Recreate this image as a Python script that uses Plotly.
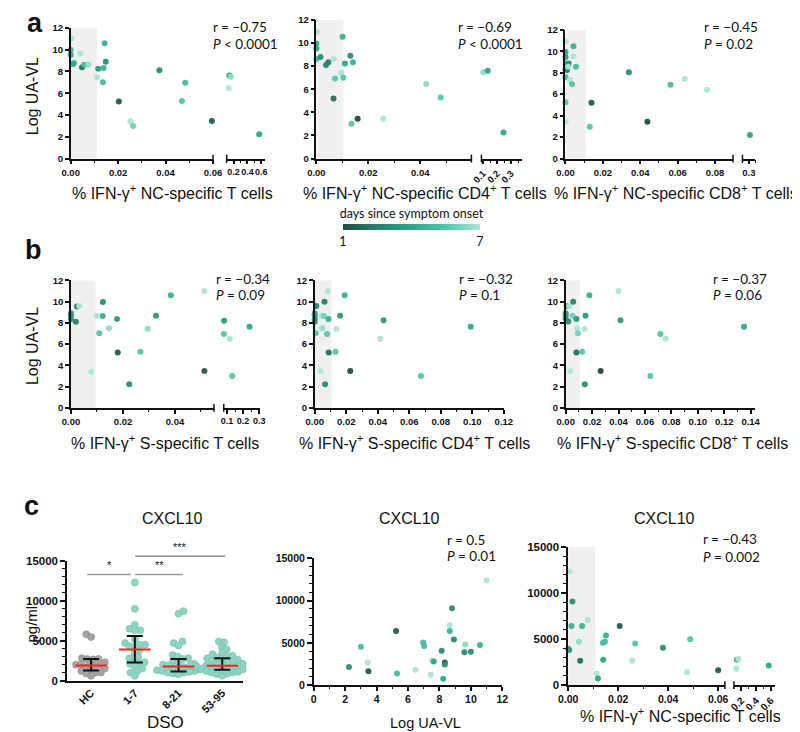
import numpy as np
import plotly.graph_objects as go

W, H = 800, 732

# ---------------- data ----------------
# a1: % IFN-g+ NC-specific T cells (x) vs Log UA-VL (y); colour = days since symptom onset
a1_x = [0.0003, 0, 0, 0.0014, 0.001, 0.0041, 0.0048, 0.0057, 0.0075, 0.0112, 0.0116, 0.0136, 0.0139,
        0.0143, 0.0148, 0.0203, 0.0252, 0.0263, 0.0374, 0.0469, 0.0483, 0.0595]
a1_y = [11.0, 9.98, 9.52, 8.77, 8.68, 9.64, 8.37, 8.6, 8.6, 7.47, 8.25, 7.01, 8.31, 10.58, 8.89, 5.23,
        3.42, 2.99, 8.1, 5.29, 6.95, 3.45]
a1_d = [7, 5, 4, 5, 4, 7, 2, 5, 6.5, 7, 3.5, 5, 4.5, 4.5, 3, 1.5, 7, 6, 3, 5.5, 5, 1.5]
a1_hx = [0.14, 0.16, 0.13, 0.57]
a1_hy = [7.62, 7.5, 6.47, 2.24]
a1_hd = [4, 6.5, 7, 4]

# a2: % IFN-g+ NC-specific CD4+ T cells
a2_x = [0.0002, 0, 0, 0, 0.0016, 0.0037, 0.0046, 0.0066, 0.0072, 0.0066, 0.0096, 0.0104, 0.0101, 0.011,
        0.0131, 0.0141, 0.0135, 0.0159, 0.0258, 0.0423, 0.0479]
a2_y = [10.95, 9.95, 9.53, 8.62, 8.79, 8.1, 8.33, 8.62, 6.94, 5.2, 7.42, 7.0, 10.55, 8.22, 8.9, 8.33,
        3.01, 3.44, 3.44, 6.45, 5.29]
a2_d = [7, 4.5, 4, 5, 3, 2.5, 2.5, 7, 5.5, 2, 7, 5.5, 4.5, 4, 3, 4.5, 5.5, 1, 7, 6.5, 5.5]
a2_hx = [0.101, 0.133, 0.245]
a2_hy = [7.48, 7.59, 2.25]
a2_hd = [6.5, 4, 4]

# a3: % IFN-g+ NC-specific CD8+ T cells
a3_x = [0, 0, 0, 0.0003, 0.0017, 0.0009, 0, 0, 0.0014, 0.0023, 0.0035, 0.0043, 0.0043, 0.0056, 0, 0,
        0.013, 0.0139, 0.0339, 0.0438, 0.0562, 0.0638, 0.0757]
a3_y = [10.9, 9.92, 9.47, 8.85, 8.85, 8.24, 8.3, 7.57, 8.55, 7.33, 6.93, 10.47, 9.53, 8.55, 5.25, 3.42,
        2.96, 5.19, 8.03, 3.42, 6.87, 7.42, 6.41]
a3_d = [7, 4, 3.5, 4.5, 3, 3, 2.5, 5, 7, 7, 5.5, 4.5, 7, 5, 5.5, 7, 5.5, 1.5, 3, 1, 5, 7, 7]
a3_hx = [0.303]
a3_hy = [2.2]
a3_hd = [4]

# b1: % IFN-g+ S-specific T cells
b1_x = [0, 0, 0, 0.0019, 0.0023, 0.0032, 0.0078, 0.0099, 0.0109, 0.0123, 0.0122, 0.0146, 0.0177, 0.018,
        0.0224, 0.0267, 0.0295, 0.0327, 0.0384, 0.0513, 0.0513]
b1_y = [8.9, 8.72, 8.35, 8.1, 9.53, 9.59, 3.41, 8.66, 7.02, 9.96, 8.63, 7.49, 8.35, 5.2, 2.23, 5.29,
        7.45, 8.66, 10.58, 10.98, 3.46]
b1_d = [4, 3.5, 3, 2.5, 2.5, 7, 7, 7, 5.5, 3, 4.5, 6.5, 3.5, 1.5, 3, 5.5, 6.5, 3.5, 4.5, 7, 1.5]
b1_hx = [0.082, 0.081, 0.118, 0.132, 0.24]
b1_hy = [8.2, 6.96, 6.5, 3.0, 7.64]
b1_hd = [3.5, 5.5, 7, 5.5, 4]

# b2: % IFN-g+ S-specific CD4+ T cells
b2_x = [0, 0, 0, 0, 0.0006, 0.001, 0.0062, 0.0082, 0.0045, 0.0058, 0.0047, 0.0087, 0.0078, 0.0089,
        0.0037, 0.0066, 0.0138, 0.0161, 0.019, 0.0132, 0.0225, 0.0437, 0.0416, 0.0674, 0.099]
b2_y = [8.9, 8.72, 8.35, 8.1, 7.02, 9.59, 9.99, 11.0, 8.66, 8.63, 7.49, 8.35, 6.96, 5.2, 3.46, 2.23,
        7.42, 8.66, 10.58, 5.29, 3.46, 8.23, 6.5, 3.0, 7.64]
b2_d = [4, 3.5, 3, 3, 5.5, 2.5, 2.5, 7, 7, 6, 6.5, 4.5, 5.5, 2, 7, 3, 7, 3.5, 4.5, 5.5, 1, 3.5, 7, 5.5, 4]

# b3: % IFN-g+ S-specific CD8+ T cells
b3_x = [0, 0, 0, 0.002, 0.0007, 0.0027, 0.0057, 0.0052, 0.0081, 0.0088, 0.0093, 0.0143, 0.015, 0.0179,
        0.0081, 0.0125, 0.0034, 0.0145, 0.0265, 0.04, 0.0415, 0.0717, 0.0757, 0.0641, 0.135]
b3_y = [8.9, 8.72, 8.41, 8.13, 9.59, 9.59, 9.99, 8.66, 8.35, 7.49, 7.02, 7.42, 8.66, 10.58, 5.2, 5.29,
        3.46, 2.23, 3.46, 11.0, 8.23, 6.96, 6.5, 3.0, 7.64]
b3_d = [4, 3.5, 3, 3, 3.5, 7, 2.5, 6, 3.5, 7, 6, 7, 3.5, 4.5, 2, 5.5, 7, 3, 1, 7, 3.5, 5.5, 7, 5.5, 4]

# c1: CXCL10 (pg/ml) by days since symptom onset
c1_groups = ["HC", "1-7", "8-21", "53-95"]
c1_hc = [5800, 5450, 2800, 2700, 2700, 2650, 2300, 2100, 2000, 2000, 1950, 1800, 1600, 1500, 1300, 1200,
         1000, 1000, 900, 600]
c1_1_7 = [12300, 9000, 7000, 6500, 6300, 6300, 5200, 4700, 4500, 4500, 4300, 4200, 3800, 3500, 3000, 2800,
          2500, 2300, 2200, 2100, 1800, 1500, 1200, 1000, 600]
c1_8_21 = [8700, 8400, 4900, 4700, 4400, 3200, 3000, 2800, 2700, 2500, 2300, 2100, 2000, 1900, 1800, 1700,
           1600, 1500, 1400, 1300, 1200, 1200, 1100, 1000, 1000, 900, 800]
c1_53_95 = [4900, 4800, 4200, 3900, 3500, 3300, 3100, 3000, 2900, 2800, 2700, 2600, 2500, 2400, 2300, 2200,
            2100, 2000, 2000, 1900, 1900, 1800, 1800, 1700, 1700, 1600, 1600, 1500, 1500, 1400, 1300, 1200,
            1100, 1000, 1000, 900, 800, 600]
c1_median = [1900, 3900, 1770, 1850]
c1_q1 = [1270, 2260, 1150, 1360]
c1_q3 = [2710, 5590, 2710, 2800]
sig_x0 = [-0.09, 1.01, 1.01]
sig_x1 = [0.91, 2.1, 3.07]
sig_y = [13300, 13300, 15600]
sig_lbl = ["*", "**", "***"]

# c2: Log UA-VL (x) vs CXCL10 (y)
c2_x = [11.0, 8.8, 8.66, 8.66, 5.24, 8.92, 6.96, 7.02, 3.0, 9.65, 10.58, 8.14, 9.59, 10.0, 3.44, 7.52,
        7.64, 8.34, 8.34, 2.24, 3.48, 6.48, 5.3, 7.45, 8.24]
c2_y = [12360, 9100, 7090, 6400, 6400, 5390, 5040, 4610, 4530, 4810, 4730, 4070, 3880, 3950, 2670, 2900,
        2790, 2670, 2440, 2130, 1630, 1820, 1360, 1240, 740]
c2_d = [7, 3, 7, 4.5, 1.5, 3, 5, 5, 5, 6.5, 4.5, 3, 3, 3, 7, 7, 4, 1.5, 3, 3, 1.5, 7, 5, 7, 4]

# c3: % IFN-g+ NC-specific T cells (x) vs CXCL10 (y)
c3_x = [0.0004, 0.0017, 0.0013, 0.0056, 0.0078, 0.0043, 0, 0.0004, 0.0048, 0.0114, 0.0119, 0.014, 0.0139,
        0.0147, 0.0151, 0.0206, 0.0256, 0.0268, 0.0379, 0.0475, 0.0488, 0.06]
c3_y = [12340, 9070, 6400, 6400, 7070, 4690, 3950, 3800, 2630, 1240, 710, 2740, 4590, 4690, 5370, 6400,
        2630, 4510, 4050, 1390, 4980, 1600]
c3_d = [7, 3, 4.5, 4.5, 7, 6.5, 3.5, 3.5, 2, 7, 4, 4, 5, 5, 4.5, 1.5, 7, 5.5, 3, 7, 5.5, 1.5]
c3_hx = [0.13, 0.14, 0.16, 0.57]
c3_hy = [1780, 2740, 2840, 2130]
c3_hd = [7, 4, 7, 4]

# shaded "background" threshold per scatter panel
shade_a = [0.0111, 0.0104, 0.0108]
shade_b = [0.0095, 0.0107, 0.0107]
shade_c3 = 0.0108

r_text = ["\u22120.75", "\u22120.69", "\u22120.45", "\u22120.34", "\u22120.32", "\u22120.37", "0.5", "\u22120.43"]
p_text = ["&lt; 0.0001", "&lt; 0.0001", "= 0.02", "= 0.09", "= 0.1", "= 0.06", "= 0.01", "= 0.002"]

# ---------------- styling helpers ----------------
BLACK = "#111111"
TICKF = "Liberation Sans, Arial, sans-serif"
LBLF = "Lato, Open Sans, sans-serif"
CS = [[0, "#1d4b42"], [0.25, "#2a7f6e"], [0.5, "#2ea68b"], [0.75, "#52c6aa"], [1, "#ace5d7"]]


def fx(p):
    return p / W


def fy(p):
    return 1 - p / H


def xid(n):
    return "x" if n == 1 else f"x{n}"


def yid(n):
    return "y" if n == 1 else f"y{n}"


def xkey(n):
    return "xaxis" if n == 1 else f"xaxis{n}"


def ykey(n):
    return "yaxis" if n == 1 else f"yaxis{n}"


layout = dict(width=W, height=H, margin=dict(l=0, r=0, t=0, b=0), paper_bgcolor="white",
              plot_bgcolor="white", showlegend=False)
shapes, annotations = [], []


def make_x(n, px0, px1, rng, anchor, dtick=None, tickvals=None, ticktext=None, minor=None,
           fmt=".2f", size=9.5, angle=0, ticks="outside"):
    ax = dict(domain=[fx(px0), fx(px1)], range=rng, anchor=yid(anchor), showline=True, linecolor=BLACK,
              linewidth=1.5, ticks=ticks, ticklen=4, tickwidth=1.5, tickcolor=BLACK, showgrid=False,
              zeroline=False, tickangle=angle, fixedrange=True,
              tickfont=dict(family=TICKF, size=size, color=BLACK, weight="bold"))
    if fmt:
        ax["tickformat"] = fmt
    if tickvals is not None:
        ax.update(tickmode="array", tickvals=tickvals)
        if ticktext is not None:
            ax["ticktext"] = ticktext
    else:
        ax.update(tick0=0, dtick=dtick)
    if minor:
        ax["minor"] = dict(tick0=0, dtick=minor, ticklen=2.5, tickwidth=1.2, tickcolor=BLACK,
                           ticks="outside", showgrid=False)
    layout[xkey(n)] = ax


def make_y(n, py0, py1, rng, anchor, dtick, minor=None, size=9.5, ticklen=4):
    ax = dict(domain=[fy(py1), fy(py0)], range=rng, anchor=xid(anchor), showline=True, linecolor=BLACK,
              linewidth=1.5, ticks="outside", ticklen=ticklen, tickwidth=1.5, tickcolor=BLACK,
              showgrid=False, zeroline=False, tick0=0, dtick=dtick, fixedrange=True, tickformat="d",
              tickfont=dict(family=TICKF, size=size, color=BLACK, weight="bold"))
    if minor:
        ax["minor"] = dict(tick0=0, dtick=minor, ticklen=3, tickwidth=1.2, tickcolor=BLACK,
                           ticks="outside", showgrid=False)
    layout[ykey(n)] = ax


# ---------------- axes ----------------
# panel a
make_x(1, 53, 199, [0, 0.06], 1, dtick=0.02, minor=0.01)
make_x(2, 213, 252, [0.1, 0.65], 1, tickvals=[0.2, 0.4, 0.6], minor=0.1, fmt=".1f", size=9)
make_y(1, 14, 147, [0, 12], 1, 2)
make_x(3, 305, 464, [0, 0.0597], 2, dtick=0.02, minor=0.01)
make_x(4, 474.3, 516, [0.088, 0.378], 2, tickvals=[0.1, 0.2, 0.3], minor=0.05, fmt=".1f", angle=-45)
make_y(2, 6, 147, [0, 12], 3, 2)
make_x(5, 560.5, 732.3, [0, 0.0896], 3, dtick=0.02, minor=0.01)
make_x(6, 742, 755.3, [0.28, 0.32], 3, tickvals=[0.3], minor=0.02, fmt=".1f")
make_y(3, 16, 147, [0, 12], 5, 2)
# panel b
make_x(7, 53.3, 200, [0, 0.055], 4, dtick=0.02, minor=0.01)
make_x(8, 210, 246.7, [0.08, 0.302], 4, tickvals=[0.1, 0.2, 0.3], minor=0.05, fmt=".1f", size=9)
make_y(4, 270.7, 400.5, [0, 12], 7, 2)
make_x(9, 303.3, 497.3, [0, 0.12], 5, dtick=0.02, minor=0.01)
make_y(5, 270.7, 400.5, [0, 12], 9, 2)
make_x(10, 560.7, 755, [0, 0.1434], 6, dtick=0.02, minor=0.01)
make_y(6, 270.7, 400.5, [0, 12], 10, 2)
# panel c
make_x(11, 49.3, 230, [-0.55, 3.48], 7, tickvals=list(range(len(c1_groups))), ticktext=c1_groups,
       fmt=None, size=11, angle=-45, ticks="")
make_y(7, 556, 677.7, [0, 15000], 11, 5000, minor=1000, size=11.5, ticklen=5)
make_x(12, 302.3, 495.7, [0, 12], 8, dtick=2, minor=1, fmt="d", size=10.5)
make_y(8, 553.3, 682.3, [0, 15000], 12, 5000, minor=1000, size=10.5, ticklen=5)
make_x(13, 563.3, 724, [0, 0.0627], 9, dtick=0.02, minor=0.01, size=10.5)
make_x(14, 733.3, 775, [0.1, 0.65], 9, tickvals=[0.2, 0.4, 0.6], minor=0.1, fmt=".1f", size=10, angle=-45)
make_y(9, 541.7, 682.3, [0, 15000], 13, 5000, minor=1000, size=11.5, ticklen=5)

layout["coloraxis"] = dict(
    colorscale=CS, cmin=1, cmax=7,
    colorbar=dict(orientation="h", x=fx(402.5), xanchor="center", y=fy(198), yanchor="top",
                  len=137, lenmode="pixels", thickness=6, thicknessmode="pixels", outlinewidth=0,
                  xpad=0, ypad=0, tickvals=[1, 7], ticks="", tickfont=dict(family=LBLF, size=12.5, color=BLACK),
                  title=dict(text="days since symptom onset", side="top",
                             font=dict(family=LBLF, size=12.5, color=BLACK))))

fig = go.Figure()


def pts(x, y, d, xa, ya, size=6):
    fig.add_trace(go.Scatter(x=x, y=y, mode="markers", xaxis=xid(xa), yaxis=yid(ya), cliponaxis=False,
                             hoverinfo="skip",
                             marker=dict(size=size, color=d, coloraxis="coloraxis", opacity=0.95,
                                         line=dict(width=0))))


def shade(xa, ya, x1, ytop):
    shapes.append(dict(type="rect", xref=xid(xa), yref=yid(ya), x0=0, x1=x1, y0=0, y1=ytop,
                       fillcolor="#f0f0f0", line=dict(width=0), layer="below"))


# panel a
shade(1, 1, shade_a[0], 12); pts(a1_x, a1_y, a1_d, 1, 1); pts(a1_hx, a1_hy, a1_hd, 2, 1)
shade(3, 2, shade_a[1], 12); pts(a2_x, a2_y, a2_d, 3, 2); pts(a2_hx, a2_hy, a2_hd, 4, 2)
shade(5, 3, shade_a[2], 12); pts(a3_x, a3_y, a3_d, 5, 3); pts(a3_hx, a3_hy, a3_hd, 6, 3)
# panel b
shade(7, 4, shade_b[0], 12); pts(b1_x, b1_y, b1_d, 7, 4); pts(b1_hx, b1_hy, b1_hd, 8, 4)
shade(9, 5, shade_b[1], 12); pts(b2_x, b2_y, b2_d, 9, 5)
shade(10, 6, shade_b[2], 12); pts(b3_x, b3_y, b3_d, 10, 6)
# panel c2, c3
pts(c2_x, c2_y, c2_d, 12, 8)
shade(13, 9, shade_c3, 15000); pts(c3_x, c3_y, c3_d, 13, 9); pts(c3_hx, c3_hy, c3_hd, 14, 9)


# panel c1: beeswarm
def swarm_offsets(vals, diam, ypp, xpp):
    ys = np.asarray(vals, float) * ypp
    order = np.argsort(ys)
    placed = []
    offs = np.zeros(len(ys))
    cands = [0.0]
    for k in range(1, 200):
        cands += [k * 0.5, -k * 0.5]
    for n, i in enumerate(order):
        y = ys[i]
        for c in (cands if n % 2 == 0 else [-v for v in cands]):
            if all((c - px_) ** 2 + (y - py_) ** 2 >= diam ** 2 for px_, py_ in placed):
                offs[i] = c
                placed.append((c, y))
                break
    return offs / xpp


ypp_c1 = (677.7 - 556) / 15000
xpp_c1 = (230 - 49.3) / (3.48 + 0.55)
groups = [c1_hc, c1_1_7, c1_8_21, c1_53_95]
for gi, vals in enumerate(groups):
    off = swarm_offsets(vals, 5.4, ypp_c1, xpp_c1)
    col = "#a4a4a4" if gi == 0 else "#8fd4c3"
    edge = "#8a8a8a" if gi == 0 else "#6fc0ac"
    fig.add_trace(go.Scatter(x=gi + off, y=vals, mode="markers", xaxis=xid(11), yaxis=yid(7),
                             cliponaxis=False, hoverinfo="skip",
                             marker=dict(size=7, color=col, line=dict(width=0.6, color=edge))))

idx = np.arange(len(c1_groups))
med = np.array(c1_median, float)
fig.add_trace(go.Scatter(x=idx, y=med, mode="markers", xaxis=xid(11), yaxis=yid(7), hoverinfo="skip",
                         marker=dict(size=1, color="rgba(0,0,0,0)"),
                         error_y=dict(type="data", symmetric=False, array=np.array(c1_q3) - med,
                                      arrayminus=med - np.array(c1_q1), color=BLACK, thickness=2, width=8)))
mx, my = [], []
for i, m in zip(idx, med):
    mx += [i - 0.36, i + 0.36, None]
    my += [m, m, None]
fig.add_trace(go.Scatter(x=mx, y=my, mode="lines", xaxis=xid(11), yaxis=yid(7), hoverinfo="skip",
                         line=dict(color="#ff1f1f", width=2)))


# significance bars (converted to paper coords via the c1 axis mapping)
def c1_px(c):
    return 49.3 + (c + 0.55) / (3.48 + 0.55) * (230 - 49.3)


def c1_py(v):
    return 677.7 - v * ypp_c1


for x0, x1, yv, lb in zip(sig_x0, sig_x1, sig_y, sig_lbl):
    col = "#555555" if lb == "***" else "#9a9a9a"
    wid = 1 if lb == "***" else 1.6
    shapes.append(dict(type="line", xref="paper", yref="paper", x0=fx(c1_px(x0)), x1=fx(c1_px(x1)),
                       y0=fy(c1_py(yv)), y1=fy(c1_py(yv)), line=dict(color=col, width=wid)))
    annotations.append(dict(x=fx((c1_px(x0) + c1_px(x1)) / 2), y=fy(c1_py(yv) - 1), xref="paper",
                            yref="paper", text=lb, showarrow=False, xanchor="center", yanchor="bottom",
                            font=dict(family=TICKF, size=11, color=BLACK)))

# break marks on broken x-axes
for e1, s2, yb in [(199, 213, 147), (464, 474.3, 147), (732.3, 742, 147), (200, 210, 400.5),
                   (724, 733.3, 682.3)]:
    for xv in (e1, s2):
        shapes.append(dict(type="line", xref="paper", yref="paper", x0=fx(xv), x1=fx(xv),
                           y0=fy(yb - 4), y1=fy(yb + 4), line=dict(color=BLACK, width=1.5)))

# r / P statistics
stat_pos = [(197, 13, 30), (448, 13, 31), (700, 13, 31), (200, 269, 286), (449, 269, 286),
            (710, 269, 286), (437, 535, 551), (699, 534, 552)]
for (lx, ry, pyy), rt, pt in zip(stat_pos, r_text, p_text):
    annotations.append(dict(x=fx(lx), y=fy(ry), xref="paper", yref="paper", text=f"r = {rt}",
                            showarrow=False, xanchor="left", yanchor="middle",
                            font=dict(family=LBLF, size=13.5, color=BLACK)))
    annotations.append(dict(x=fx(lx), y=fy(pyy), xref="paper", yref="paper", text=f"<i>P</i> {pt}",
                            showarrow=False, xanchor="left", yanchor="middle",
                            font=dict(family=LBLF, size=13.5, color=BLACK)))


def label(text, x, y, size=16, angle=0, family=TICKF, bold=False):
    annotations.append(dict(x=fx(x), y=fy(y), xref="paper", yref="paper", text=text, showarrow=False,
                            xanchor="center", yanchor="middle", textangle=angle,
                            font=dict(family=family, size=size, color=BLACK,
                                      weight="bold" if bold else "normal")))


# axis titles
label("% IFN-\u03b3<sup>+</sup> NC-specific T cells", 157, 181)
label("% IFN-\u03b3<sup>+</sup> NC-specific CD4<sup>+</sup> T cells", 416, 181)
label("% IFN-\u03b3<sup>+</sup> NC-specific CD8<sup>+</sup> T cells", 674, 181)
label("% IFN-\u03b3<sup>+</sup> S-specific T cells", 150, 435)
label("% IFN-\u03b3<sup>+</sup> S-specific CD4<sup>+</sup> T cells", 406, 435)
label("% IFN-\u03b3<sup>+</sup> S-specific CD8<sup>+</sup> T cells", 670, 435)
label("Log UA-VL", 14, 84, angle=-90)
label("Log UA-VL", 14, 338, angle=-90)
label("pg/ml", 13, 620, size=15, angle=-90)
label("DSO", 150, 720, size=17)
label("Log UA-VL", 417, 721, size=14.5)
label("% IFN-\u03b3<sup>+</sup> NC-specific T cells", 678, 713)
label("CXCL10", 157, 513)
label("CXCL10", 400, 513)
label("CXCL10", 662, 513)
# panel letters
label("a", 16, 9, size=27, bold=True)
label("b", 15, 240, size=27, bold=True)
label("c", 13, 500, size=27, bold=True)

layout["shapes"] = shapes
layout["annotations"] = annotations
fig.update_layout(**layout)
fig.write_html("out.html")
